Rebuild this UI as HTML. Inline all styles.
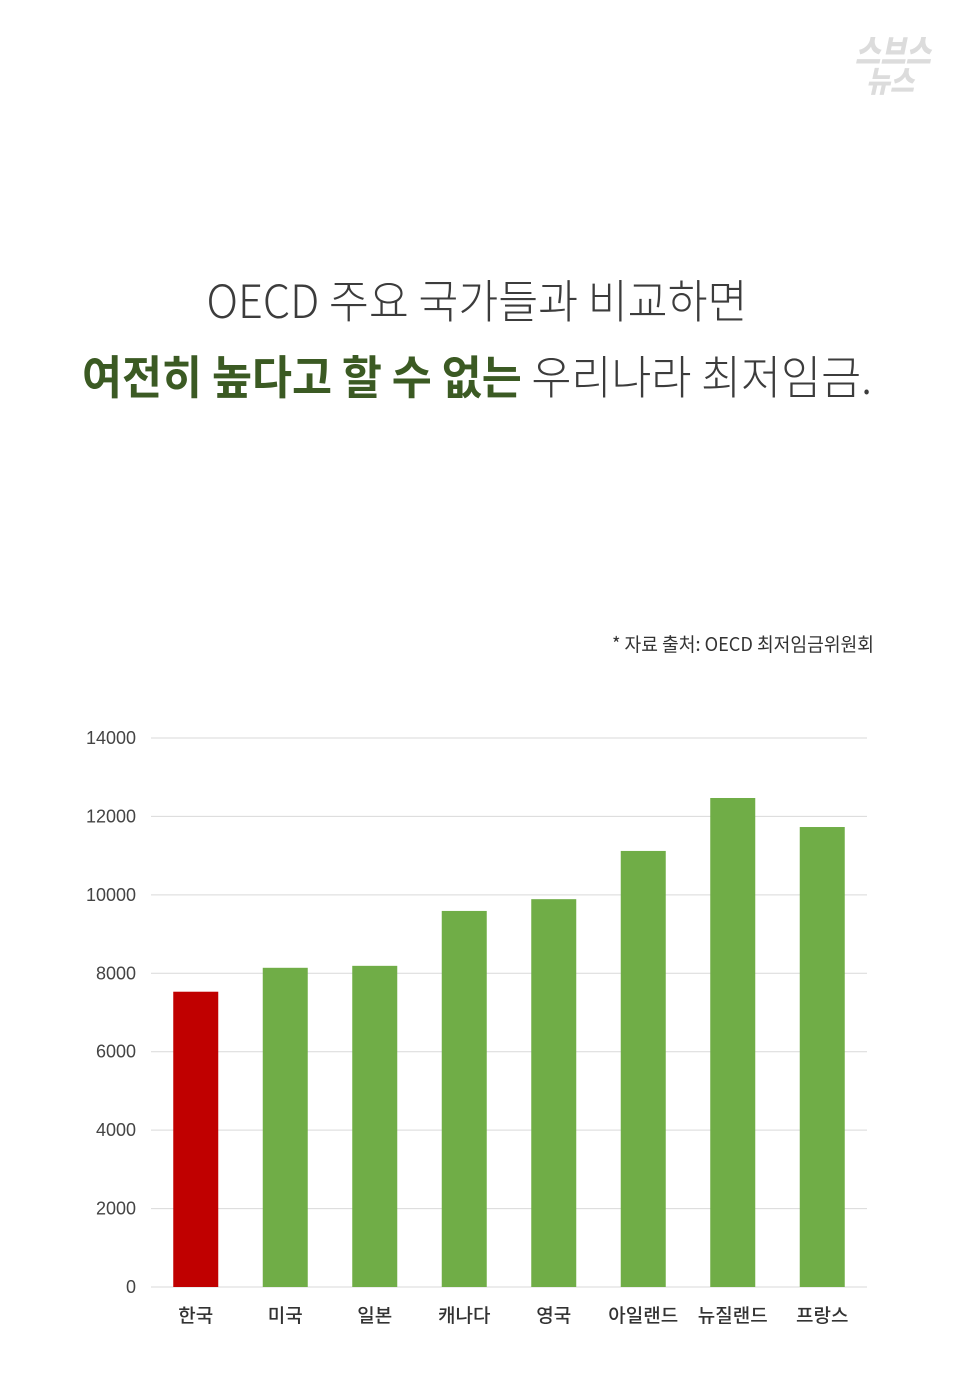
<!DOCTYPE html>
<html><head><meta charset="utf-8"><style>
body{margin:0;background:#fff;}
svg{display:block;}
</style></head><body>
<svg id="c" width="960" height="1400" font-family="'Liberation Sans','Noto Sans CJK KR',sans-serif">
<g fill="#dcdcdc" font-weight="900" font-style="italic" font-family="'Noto Sans CJK KR',sans-serif">
<text x="893" y="64" font-size="34" text-anchor="middle" textLength="76" lengthAdjust="spacingAndGlyphs">스브스</text>
<text x="890" y="92" font-size="30" text-anchor="middle" textLength="48" lengthAdjust="spacingAndGlyphs">뉴스</text>
</g>
<text x="477" y="318" font-size="46" font-weight="300" fill="#3c3c3c" text-anchor="middle" textLength="541" lengthAdjust="spacingAndGlyphs" font-family="'Noto Sans CJK KR',sans-serif">OECD 주요 국가들과 비교하면</text>
<text x="82" y="394" font-size="46" fill="#3c3c3c" textLength="790" lengthAdjust="spacingAndGlyphs" font-family="'Noto Sans CJK KR',sans-serif"><tspan font-weight="bold" fill="#3b5a23">여전히 높다고 할 수 없는</tspan><tspan font-weight="300"> 우리나라 최저임금.</tspan></text>
<text x="874" y="651" font-size="19" fill="#333" text-anchor="end" textLength="262" lengthAdjust="spacingAndGlyphs" font-family="'Noto Sans CJK KR',sans-serif">* 자료 출처: OECD 최저임금위원회</text>
<g id="grid"></g><g id="bars"></g><g id="labels"></g>
</svg>
<script>
const categories=["한국","미국","일본","캐나다","영국","아일랜드","뉴질랜드","프랑스"];
const values=[7530,8140,8190,9590,9890,11120,12470,11730];
const ticks=[0,2000,4000,6000,8000,10000,12000,14000];
const NS="http://www.w3.org/2000/svg";
const y0=1287,y1=738,maxV=14000,xL=151,xR=867;
const y=v=>y0-(v/maxV)*(y0-y1);
const step=(xR-xL)/categories.length;
const x=i=>xL+step*(i+0.5);
function mk(t,a,p){const e=document.createElementNS(NS,t);for(const k in a)e.setAttribute(k,a[k]);p.appendChild(e);return e;}
const g=document.getElementById('grid'),b=document.getElementById('bars'),l=document.getElementById('labels');
ticks.forEach(t=>{
const ln=mk('line',{x1:xL,x2:xR,y1:y(t),y2:y(t),stroke:'#d9d9d9','stroke-width':1},g);


const tx=mk('text',{x:136,y:y(t)+6,'font-size':18,fill:'#444','text-anchor':'end'},g);
tx.textContent=t;


});
values.forEach((v,i)=>{
const r=mk('rect',{x:x(i)-22.5,y:y(v),width:45,height:y0-y(v),fill:i===0?'#c00000':'#70ad47'},b);


const tx=mk('text',{x:x(i),y:1322,'font-size':19,'font-weight':500,fill:'#333','text-anchor':'middle','font-family':"'Noto Sans CJK KR',sans-serif"},l);
tx.textContent=categories[i];


});
</script>
</body></html>
